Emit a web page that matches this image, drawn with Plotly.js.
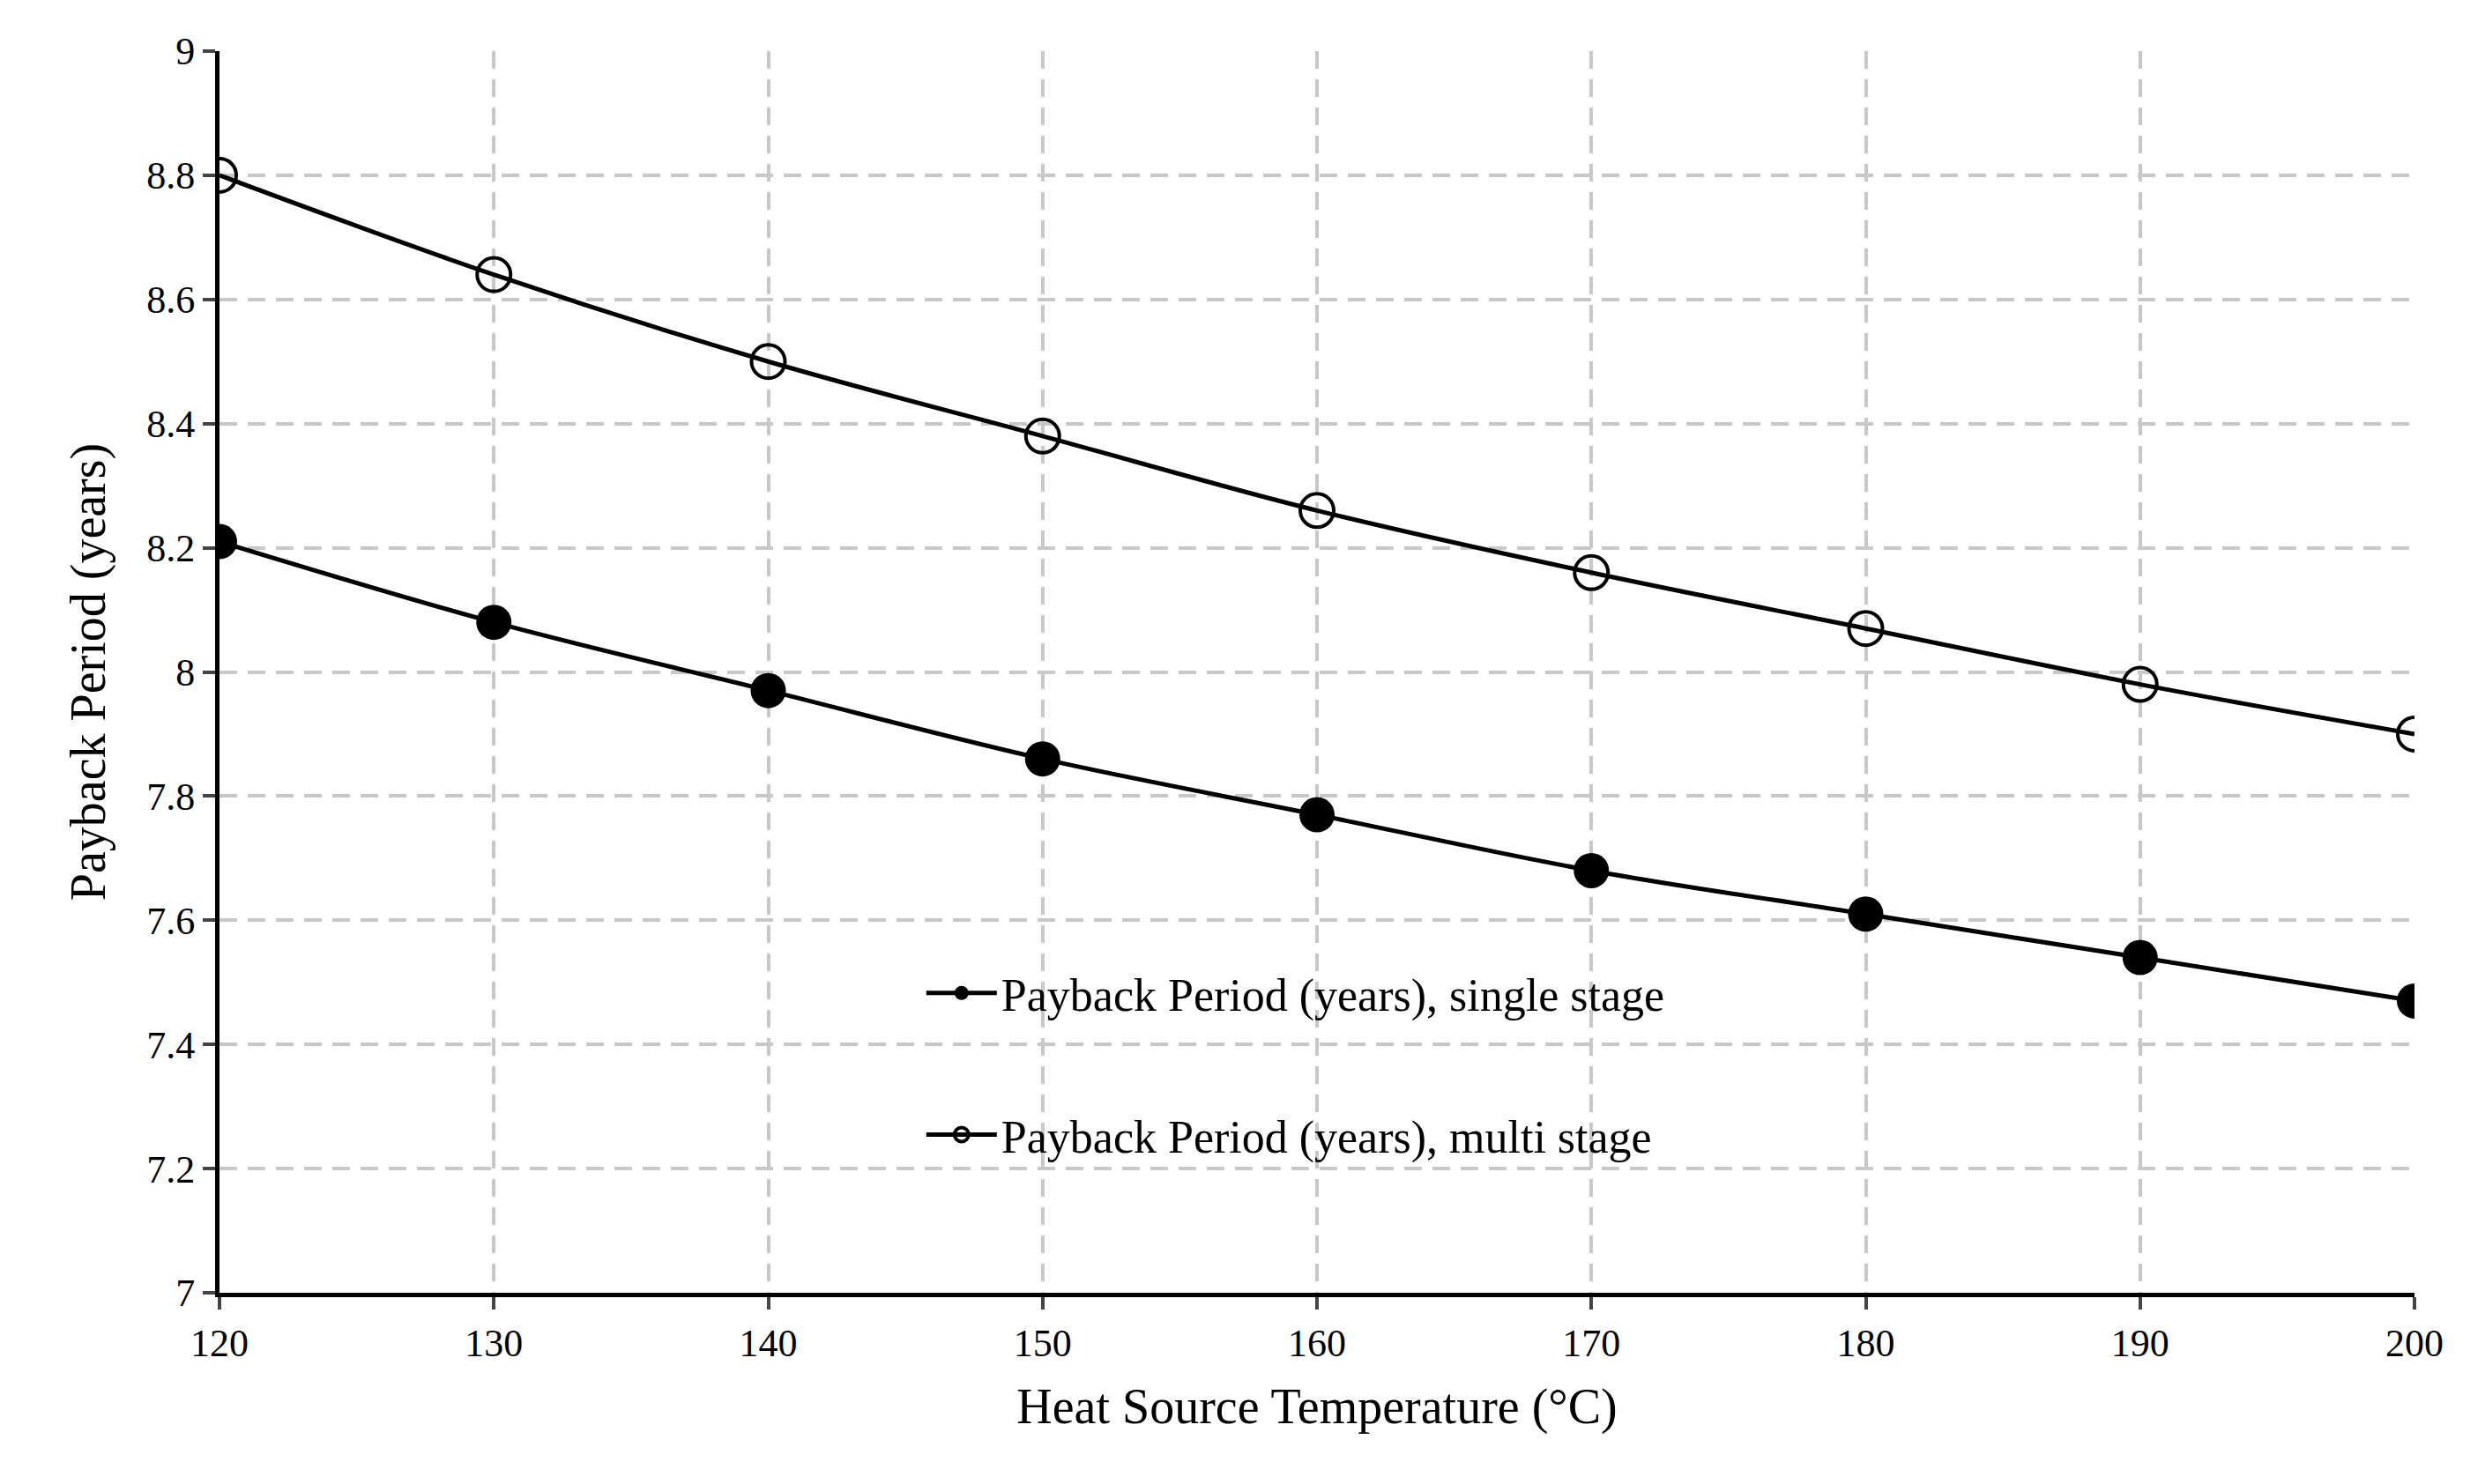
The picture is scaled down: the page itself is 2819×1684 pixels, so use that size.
<!DOCTYPE html>
<html>
<head>
<meta charset="utf-8">
<script src="https://cdn.plot.ly/plotly-3.0.1.min.js"></script>
<style>html,body{margin:0;padding:0;background:#fff}#plot{width:2819px;height:1684px}</style>
</head>
<body>
<div id="plot"></div>
<script>
// data
const temps = [120, 130, 140, 150, 160, 170, 180, 190, 200];
const single_stage = [8.21, 8.08, 7.97, 7.86, 7.77, 7.68, 7.61, 7.54, 7.47];
const multi_stage = [8.80, 8.64, 8.50, 8.38, 8.26, 8.16, 8.07, 7.98, 7.90];

const font = 'Liberation Serif, Times New Roman, serif';

const traces = [
  { x: temps, y: single_stage, mode: 'lines+markers', name: 'Payback Period (years), single stage',
    legendgroup: 'a',
    line: {color: 'black', width: 5, shape: 'spline'},
    marker: {symbol: 'circle', size: 40, color: 'black'} },
  { x: temps, y: multi_stage, mode: 'lines+markers', name: 'Payback Period (years), multi stage',
    legendgroup: 'b',
    line: {color: 'black', width: 5, shape: 'spline'},
    marker: {symbol: 'circle-open', size: 38, color: 'black', line: {width: 4, color: 'black'}} }
];

const gridStyle = {showgrid: true, gridcolor: '#c8c8c8', gridwidth: 4, griddash: '20px,12px'};

const layout = {
  width: 2819, height: 1684,
  paper_bgcolor: 'white', plot_bgcolor: 'white',
  margin: {l: 249, r: 80, t: 58, b: 217},
  font: {family: font, size: 44, color: 'black'},
  xaxis: Object.assign({
    range: [120, 200], dtick: 10, tick0: 120,
    showline: true, linecolor: 'black', linewidth: 5,
    ticks: 'outside', ticklen: 14, tickwidth: 4, zeroline: false,
    tickfont: {size: 44},
    title: {text: 'Heat Source Temperature (°C)', font: {size: 56}, standoff: 30}
  }, gridStyle),
  yaxis: Object.assign({
    range: [7, 9], dtick: 0.2,
    showline: true, linecolor: 'black', linewidth: 5,
    ticks: 'outside', ticklen: 14, tickwidth: 4, zeroline: false,
    tickfont: {size: 44},
    title: {text: 'Payback Period (years)', font: {size: 56}, standoff: 30}
  }, gridStyle),
  legend: {x: 0.32, y: 0.27, xanchor: 'left', yanchor: 'top',
    bgcolor: 'rgba(0,0,0,0)', font: {size: 52}, tracegroupgap: 90,
    itemwidth: 80},
  showlegend: true
};

Plotly.newPlot('plot', traces, layout, {displayModeBar: false});
</script>
</body>
</html>
